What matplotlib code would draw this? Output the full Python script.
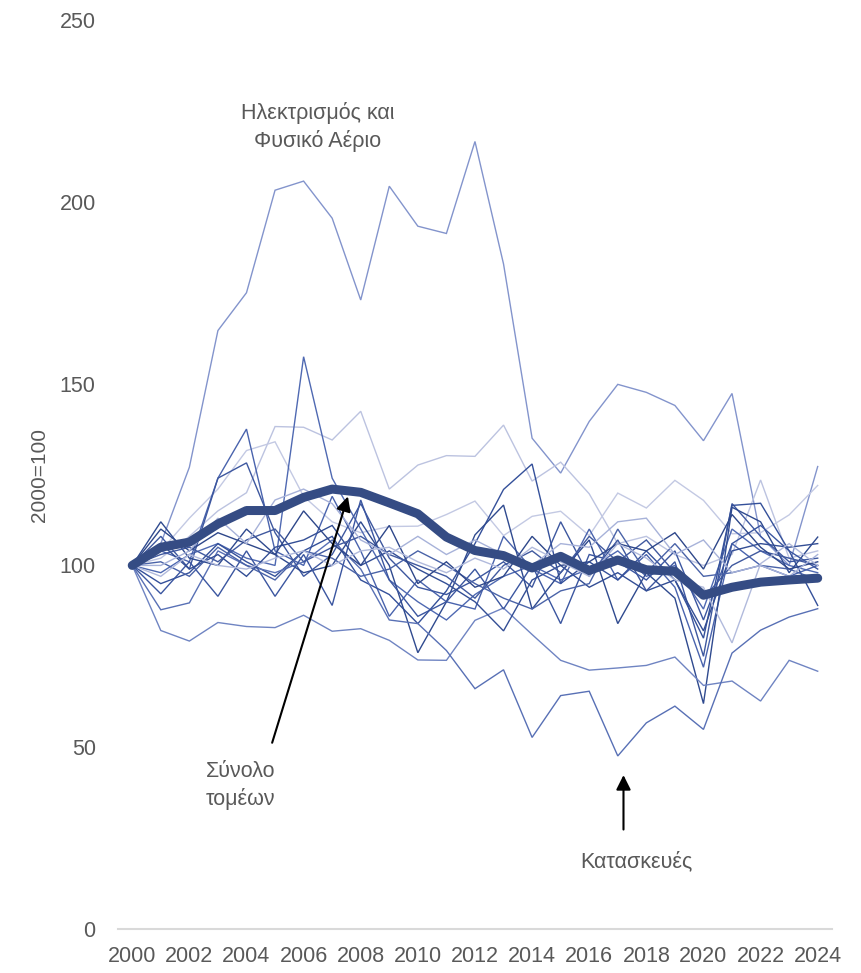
import matplotlib
matplotlib.use("Agg")
import matplotlib.pyplot as plt

plt.rcParams['font.family'] = ['Liberation Sans', 'DejaVu Sans']

years = list(range(2000, 2025))
xtick_years = list(range(2000, 2025, 2))
yticks = [0, 50, 100, 150, 200, 250]

total = [100, 105, 106.4, 111.4, 115.1, 115.1, 118.7, 121, 120.1, 117.2, 114.2, 107.8, 104.1,
         102.7, 99.3, 102.5, 98.6, 101.5, 98.8, 98.4, 91.8, 94, 95.4, 96, 96.5]

electricity = [100, 106, 127, 164.6, 175, 203.2, 205.7, 195.5, 173, 204.3, 193.3, 191.3, 216.6,
               182.9, 135, 125.4, 139.6, 149.8, 147.6, 144, 134.3, 147.3, 108, 100, 127.2]
sector_a = [100, 102, 108, 115, 120, 138.2, 138, 134.5, 142.4, 121, 127.6, 130.2, 130,
            138.6, 123.2, 128.4, 119.7, 106, 108, 103, 100, 103, 123.5, 102, 104]
sector_b = [100, 104, 113, 121, 131.6, 134, 119, 112, 109, 110.7, 110.8, 114, 117.7,
            108.2, 113.5, 114.9, 108.2, 119.9, 115.8, 123.4, 117.9, 108.7, 109, 113.9, 122]
sector_c = [100, 98, 103, 106, 102, 100, 157.4, 124, 110, 96, 90, 85, 92,
            97, 100, 96, 99, 104, 97, 100, 88, 110, 104, 100, 98]
sector_d = [100, 104, 101, 124, 137.5, 104, 100, 119, 104, 86, 96, 90, 88,
            108, 99, 95, 110, 96, 103, 94, 72, 106, 100, 97, 100]
sector_e = [100, 108, 99, 124, 128.2, 109, 97, 103, 117, 102, 94, 92, 96,
            101, 94, 112, 97, 107, 93, 101, 75, 117, 108, 101, 102]
sector_f = [100, 95, 98, 106, 101, 97, 104, 108, 96, 92, 84, 93, 106,
            120.9, 127.9, 95, 101, 96, 104, 96, 80, 116.5, 117.1, 104, 89]
sector_g = [100, 112, 102, 100, 110, 103, 98, 100, 112, 100, 76, 90, 108.4,
            116.6, 88, 98, 107, 84, 98, 91, 62, 116, 112, 98, 107.8]
sector_h = [100, 82.1, 79.2, 84.3, 83.2, 82.9, 86.3, 81.9, 82.6, 79.4, 74, 73.9, 84.9,
            88.3, 81, 73.9, 71.2, 71.8, 72.5, 74.8, 67, 68.2, 62.7, 73.9, 70.9]
construction = [100, 87.8, 89.7, 104, 100, 98, 101, 107, 99, 85, 84, 76.6, 66.1,
                71.3, 52.7, 64.2, 65.4, 47.6, 56.7, 61.3, 54.9, 75.9, 82.2, 85.8, 88.1]
sector_i = [100, 92.2, 101, 91.5, 104, 91.5, 103, 89, 118, 96, 86, 90, 99,
            88, 100, 84, 103, 101, 96, 104, 85, 106, 111, 104, 99]
sector_j = [100, 106, 99, 103, 97, 105, 107, 111, 100, 104, 99, 95, 90,
            82, 96, 100, 94, 98, 93, 96, 82, 104, 106, 105, 106]
sector_k = [100, 103, 105, 101, 107, 110, 101, 105, 108, 103, 100, 97, 91,
            100, 104, 98, 108, 101, 107, 98, 91, 100, 104, 102, 100]
sector_l = [100, 101, 97, 105, 100, 96, 104, 102, 97, 99, 104, 100, 95,
            91, 88, 93, 95, 110, 98, 106, 97, 98, 100, 99, 96]
sector_m = [100, 110, 104, 109, 106, 103, 115, 106, 100, 111, 95, 101, 94,
            97, 108, 100, 101, 106, 104, 109, 99, 114, 105, 99, 101]
sector_n = [100, 100, 104, 113, 106, 118, 121, 117, 107, 103, 108, 103, 107,
            103, 100, 106, 105, 112, 113, 103, 107, 98, 100, 97, 103]
sector_o = [100, 97, 103, 100, 99, 102, 104, 100, 104, 105, 101, 98, 102,
            99, 105, 101, 97, 106, 102, 96, 94, 78.7, 100.5, 106, 100]

thin_series = [electricity, sector_a, sector_b, sector_c, sector_d, sector_e, sector_f,
               sector_g, sector_h, construction, sector_i, sector_j, sector_k, sector_l,
               sector_m, sector_n, sector_o]
thin_colors = ['#8394CC', '#BCC3E0', '#C3C9E3', '#4F69B2', '#4963AD', '#3D579F', '#34509A',
               '#2F4A8F', '#6F84C2', '#5870B5', '#3B56A0', '#334E95', '#40599F', '#4A63A8',
               '#2E478A', '#A7B2D9', '#B1BADC']

fig = plt.figure(figsize=(8.61, 9.73), dpi=100)
ax = fig.add_axes([0.137, 0.0452, 0.8293, 0.9342])

for s, c in zip(thin_series, thin_colors):
    ax.plot(years, s, color=c, lw=1.0, solid_joinstyle='miter')

ax.plot(years, total, color='#354C84', lw=6.5, solid_capstyle='round', solid_joinstyle='round', zorder=5)

ax.set_xlim(1999.5, 2024.5)
ax.set_ylim(0, 250)
ax.set_xticks(xtick_years)
ax.set_xticklabels([str(y) for y in xtick_years])
ax.set_yticks(yticks)
ax.set_yticklabels([str(v) for v in yticks])
ax.tick_params(axis='both', length=0, labelsize=15.5, labelcolor='#595959')
ax.tick_params(axis='y', pad=16)
ax.tick_params(axis='x', pad=12)
for sp in ['top', 'right', 'left']:
    ax.spines[sp].set_visible(False)
ax.spines['bottom'].set_color('#D9D9D9')
ax.spines['bottom'].set_linewidth(1.5)

ax.set_ylabel('2000=100', fontsize=15, color='#595959')
ax.yaxis.set_label_coords(-0.097, 0.5)

txt_color = '#595959'
ax.text(2006.5, 220.5, 'Ηλεκτρισμός και\nΦυσικό Αέριο', ha='center', va='center',
        fontsize=15.5, color=txt_color, linespacing=1.35)

ax.annotate('', xy=(2007.58, 119.7), xytext=(2004.87, 50.5),
            arrowprops=dict(arrowstyle='-|>', color='black', lw=1.5, mutation_scale=22))
ax.text(2003.8, 39.5, 'Σύνολο\nτομέων', ha='center', va='center',
        fontsize=15.5, color=txt_color, linespacing=1.35)

ax.annotate('', xy=(2017.2, 43.1), xytext=(2017.2, 26.6),
            arrowprops=dict(arrowstyle='-|>', color='black', lw=1.5, mutation_scale=22))
ax.text(2017.66, 18.5, 'Κατασκευές', ha='center', va='center',
        fontsize=15.5, color=txt_color)

fig.savefig('out.png', dpi=100)
